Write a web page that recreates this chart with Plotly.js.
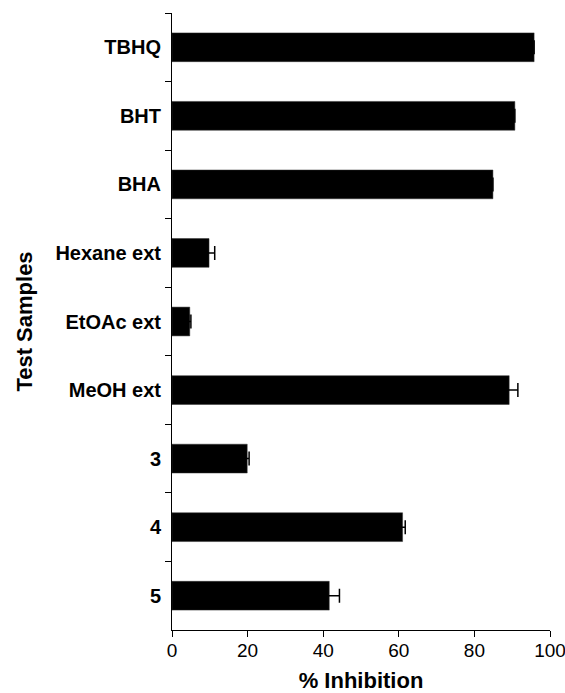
<!DOCTYPE html>
<html>
<head>
<meta charset="utf-8">
<script src="https://cdn.plot.ly/plotly-3.0.1.min.js"></script>
<style>html,body{margin:0;padding:0;background:#fff;}#chart{width:565px;height:693px;}</style>
</head>
<body>
<div id="chart"></div>
<script>
const categories = ["TBHQ", "BHT", "BHA", "Hexane ext", "EtOAc ext", "MeOH ext", "3", "4", "5"];
const inhibition = [95.8, 90.7, 84.9, 9.8, 4.7, 89.2, 19.9, 61.0, 41.6];
const errors = [null, null, null, 1.5, 0.3, 2.3, 0.5, 0.7, 2.7];
const xTicks = [0, 20, 40, 60, 80, 100];

const trace = {
  type: 'bar',
  orientation: 'h',
  x: inhibition,
  y: categories,
  marker: {color: '#000000', line: {color: '#333333', width: 0.5}},
  error_x: {type: 'data', array: errors, visible: true, color: '#000000', thickness: 1.5, width: 7},
  hoverinfo: 'x+y'
};

const layout = {
  width: 565,
  height: 693,
  margin: {l: 172, r: 15, t: 13, b: 63},
  paper_bgcolor: '#ffffff',
  plot_bgcolor: '#ffffff',
  showlegend: false,
  bargap: 0.58,
  font: {family: 'Liberation Sans, Arial, sans-serif', color: '#000000'},
  xaxis: {
    range: [0, 100],
    tickvals: xTicks,
    ticktext: xTicks.map(String),
    ticks: 'outside',
    ticklen: 6,
    tickwidth: 1,
    tickcolor: '#000000',
    ticklabeloverflow: 'allow',
    ticklabelstandoff: -3,
    showline: true,
    linecolor: '#000000',
    linewidth: 1,
    showgrid: false,
    zeroline: false,
    tickfont: {size: 19, color: '#000000'},
    title: {text: '% Inhibition', font: {size: 22, weight: 'bold', color: '#000000'}, standoff: 22}
  },
  yaxis: {
    type: 'category',
    autorange: 'reversed',
    tickson: 'boundaries',
    ticks: 'outside',
    ticklen: 6,
    tickwidth: 1,
    tickcolor: '#000000',
    ticklabelstandoff: 6,
    showline: true,
    linecolor: '#000000',
    linewidth: 1,
    showgrid: false,
    zeroline: false,
    tickfont: {size: 20, weight: 'bold', color: '#000000'},
    title: {text: 'Test Samples', font: {size: 22, weight: 'bold', color: '#000000'}, standoff: 16}
  }
};

Plotly.newPlot('chart', [trace], layout, {displayModeBar: false, staticPlot: true});
</script>
</body>
</html>
